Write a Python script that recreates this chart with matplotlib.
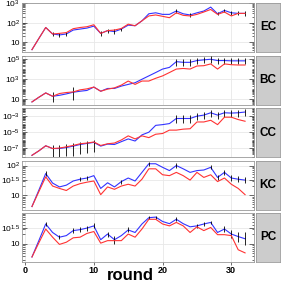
import numpy as np
import matplotlib
matplotlib.use("Agg")
import matplotlib.pyplot as plt
from matplotlib.ticker import FixedLocator, NullFormatter

plt.rcParams['font.family'] = ['Liberation Sans', 'DejaVu Sans']
plt.rcParams['mathtext.default'] = 'regular'

rounds = np.arange(1, 33)
panels = ['EC', 'BC', 'CC', 'KC', 'PC']

# values, as log10 exponents
ec_blue = [0.62, 1.19, 1.75, 1.42, 1.37, 1.42, 1.62, 1.67, 1.72, 1.82, 1.45, 1.59, 1.54, 1.67, 1.87, 1.84,
           2.09, 2.45, 2.50, 2.42, 2.42, 2.59, 2.45, 2.39, 2.50, 2.59, 2.79, 2.45, 2.62, 2.50, 2.47, 2.47]
ec_red = [0.62, 1.19, 1.75, 1.42, 1.45, 1.49, 1.69, 1.75, 1.79, 1.89, 1.45, 1.59, 1.62, 1.70, 1.92, 1.84,
          2.09, 2.34, 2.39, 2.32, 2.25, 2.50, 2.37, 2.34, 2.42, 2.54, 2.67, 2.42, 2.54, 2.34, 2.47, 2.47]

bc_blue = [0.71, 1.18, 1.62, 1.28, 1.38, 1.52, 1.69, 1.79, 1.87, 2.21, 1.79, 2.07, 2.07, 2.31, 2.48, 2.65,
           3.00, 3.34, 3.68, 4.03, 4.20, 4.78, 4.71, 4.71, 4.89, 4.96, 5.02, 4.89, 4.89, 4.86, 4.86, 4.86]
bc_red = [0.71, 1.18, 1.62, 1.28, 1.56, 1.66, 1.72, 1.93, 2.03, 2.21, 1.79, 2.00, 2.13, 2.41, 2.82, 2.48,
          2.82, 2.82, 3.10, 3.34, 3.68, 4.03, 4.09, 4.03, 4.34, 4.37, 4.55, 4.03, 4.55, 4.47, 4.44, 4.44]

cc_blue = [-7.85, -7.30, -6.67, -7.01, -7.01, -6.89, -6.71, -6.51, -6.38, -6.25, -6.71, -6.46, -6.51, -6.16,
           -5.82, -6.08, -5.32, -4.99, -4.14, -4.05, -3.92, -3.29, -3.29, -3.29, -3.00, -2.87, -2.58, -2.87,
           -2.58, -2.62, -2.58, -2.49]
cc_red = [-7.85, -7.30, -6.67, -7.01, -6.95, -6.80, -6.63, -6.42, -6.33, -6.20, -6.63, -6.42, -6.33, -5.95,
          -5.44, -5.82, -5.44, -5.66, -5.24, -5.15, -4.73, -4.73, -4.61, -4.56, -3.72, -3.72, -3.51, -4.05,
          -3.13, -3.13, -3.42, -3.63]

kc_blue = [0.62, 1.17, 1.73, 1.41, 1.28, 1.34, 1.48, 1.54, 1.58, 1.66, 1.23, 1.42, 1.28, 1.46, 1.58, 1.48,
           1.77, 2.06, 2.06, 1.94, 1.83, 2.00, 1.89, 1.77, 1.83, 1.85, 1.94, 1.60, 1.77, 1.58, 1.54, 1.51]
kc_red = [0.62, 1.12, 1.62, 1.31, 1.23, 1.16, 1.31, 1.39, 1.44, 1.48, 1.02, 1.28, 1.20, 1.31, 1.37, 1.31,
          1.54, 1.89, 1.89, 1.69, 1.66, 1.77, 1.66, 1.51, 1.77, 1.60, 1.69, 1.46, 1.58, 1.37, 1.23, 1.02]

pc_blue = [0.58, 1.10, 1.63, 1.36, 1.21, 1.26, 1.42, 1.45, 1.50, 1.57, 1.13, 1.31, 1.13, 1.26, 1.44, 1.36,
           1.63, 1.83, 1.85, 1.71, 1.64, 1.78, 1.64, 1.54, 1.57, 1.63, 1.68, 1.36, 1.47, 1.31, 1.23, 1.16]
pc_red = [0.58, 1.03, 1.47, 1.21, 0.98, 1.05, 1.19, 1.21, 1.33, 1.39, 1.02, 1.10, 1.10, 1.10, 1.31, 1.21,
          1.47, 1.78, 1.78, 1.63, 1.57, 1.68, 1.57, 1.36, 1.54, 1.42, 1.52, 1.29, 1.29, 1.26, 0.81, 0.71]

# error bars on the blue series: round -> (down, up), log10 units
ec_err = {4: (0.1, 0.1), 5: (0.08, 0.08), 6: (0.08, 0.08), 11: (0.12, 0.12), 12: (0.1, 0.1),
          13: (0.12, 0.12), 14: (0.08, 0.08), 22: (0.12, 0.12), 24: (0.08, 0.08), 28: (0.08, 0.08),
          29: (0.06, 0.06), 30: (0.1, 0.1), 31: (0.1, 0.1), 32: (0.12, 0.12)}
bc_err = {4: (0.6, 0.4), 7: (0.8, 0.5), 22: (0.4, 0.3), 23: (0.35, 0.3), 24: (0.35, 0.3), 25: (0.35, 0.3),
          26: (0.35, 0.3), 27: (0.35, 0.3), 28: (0.35, 0.3), 29: (0.35, 0.3), 30: (0.35, 0.3),
          31: (0.35, 0.3), 32: (0.35, 0.3)}
cc_err = {4: (1.0, 0.4), 5: (1.0, 0.4), 6: (1.1, 0.4), 7: (1.2, 0.35), 8: (1.2, 0.35), 9: (1.2, 0.35),
          10: (1.2, 0.35), 22: (0.6, 0.4), 23: (0.6, 0.4), 24: (0.6, 0.4), 25: (0.5, 0.35),
          26: (0.5, 0.35), 27: (0.5, 0.35), 28: (0.5, 0.35), 29: (0.5, 0.35), 30: (0.5, 0.35),
          31: (0.5, 0.35), 32: (0.5, 0.35)}
kc_err = {3: (0.08, 0.08), 8: (0.07, 0.07), 9: (0.07, 0.07), 14: (0.07, 0.07), 18: (0.07, 0.07),
          22: (0.08, 0.08), 27: (0.07, 0.07), 28: (0.08, 0.08), 29: (0.08, 0.08), 30: (0.1, 0.1),
          31: (0.1, 0.1), 32: (0.1, 0.1)}
pc_err = {3: (0.07, 0.07), 5: (0.07, 0.07), 7: (0.08, 0.08), 8: (0.08, 0.08), 9: (0.08, 0.08),
          10: (0.08, 0.08), 12: (0.08, 0.08), 13: (0.13, 0.13), 15: (0.08, 0.08), 18: (0.05, 0.05),
          19: (0.05, 0.05), 22: (0.07, 0.07), 25: (0.06, 0.06), 26: (0.06, 0.06), 27: (0.06, 0.06),
          29: (0.1, 0.1), 30: (0.12, 0.12), 31: (0.16, 0.16), 32: (0.2, 0.2)}

blue_all = [ec_blue, bc_blue, cc_blue, kc_blue, pc_blue]
red_all = [ec_red, bc_red, cc_red, kc_red, pc_red]
err_all = [ec_err, bc_err, cc_err, kc_err, pc_err]

ylims = [(0.5, 3.0), (0.45, 5.4), (-8.06, -1.99), (0.52, 2.17), (0.42, 1.98)]
tick_exp = [[1, 2, 3], [1, 3, 5], [-7, -5, -3], [1, 1.5, 2], [1, 1.5]]
tick_lab = [['10', '$10^2$', '$10^3$'], ['10', '$10^3$', '$10^5$'],
            ['$10^{-7}$', '$10^{-5}$', '$10^{-3}$'], ['10', '$10^{1.5}$', '$10^2$'],
            ['10', '$10^{1.5}$']]

W = 282.0
fig = plt.figure(figsize=(2.82, 2.82), dpi=100)
left, right = 22 / W, 254 / W
ph = 49 / W
tops = [3, 55.5, 108, 160.5, 213]

for i, name in enumerate(panels):
    bottom = 1 - (tops[i] + 49) / W
    ax = fig.add_axes([left, bottom, right - left, ph])
    ax.set_yscale('log')
    blue = 10 ** np.array(blue_all[i])
    red = 10 ** np.array(red_all[i])

    ax.plot(rounds, blue, color='#3333FF', lw=0.8, zorder=3)
    ers = sorted(err_all[i])
    ex = np.array(ers)
    ey = np.array([blue_all[i][r - 1] for r in ers])
    lo = np.array([err_all[i][r][0] for r in ers])
    hi = np.array([err_all[i][r][1] for r in ers])
    ax.vlines(ex, 10 ** (ey - lo), 10 ** (ey + hi), color='black', lw=0.6, zorder=4)
    ax.plot(rounds, red, color='#FF3333', lw=0.8, zorder=5)

    ax.set_xlim(-0.45, 33.3)
    ax.set_ylim(10 ** ylims[i][0], 10 ** ylims[i][1])
    ax.yaxis.set_major_locator(FixedLocator([10 ** e for e in tick_exp[i]]))
    ax.set_yticklabels(tick_lab[i])
    lo_d, hi_d = int(np.floor(ylims[i][0])), int(np.ceil(ylims[i][1]))
    minors = [m * 10.0 ** d for d in range(lo_d, hi_d + 1) for m in range(1, 10)]
    ax.yaxis.set_minor_locator(FixedLocator(minors))
    ax.yaxis.set_minor_formatter(NullFormatter())
    ax.set_xticks([0, 10, 20, 30])
    ax.grid(True, which='major', color='#E8E8E8', lw=0.6, zorder=0)
    ax.tick_params(axis='y', which='both', direction='in', left=True, right=True,
                   width=0.5, colors='#333333', labelsize=6, pad=1.5, labelcolor='black')
    ax.tick_params(axis='y', which='major', length=3.5)
    ax.tick_params(axis='y', which='minor', length=1.8)
    if i < 4:
        ax.tick_params(axis='x', bottom=False, labelbottom=False)
    else:
        ax.tick_params(axis='x', length=2, width=0.5, pad=1, labelsize=6.5, colors='#333333',
                       labelcolor='black')
        for t in ax.get_xticklabels():
            t.set_fontweight('bold')
    for s in ax.spines.values():
        s.set_color('#999999')
        s.set_linewidth(0.6)

    sax = fig.add_axes([256 / W, bottom, 24 / W, ph])
    sax.set_facecolor('#CCCCCC')
    sax.set_xticks([])
    sax.set_yticks([])
    for s in sax.spines.values():
        s.set_color('#999999')
        s.set_linewidth(0.6)
    sax.text(0.5, 0.5, name, ha='center', va='center', fontsize=8.5, fontweight='bold',
             transform=sax.transAxes)

fig.text(130 / W, 1.5 / W, 'round', ha='center', va='baseline', fontsize=12, fontweight='bold')

fig.savefig('out.png', dpi=100)
